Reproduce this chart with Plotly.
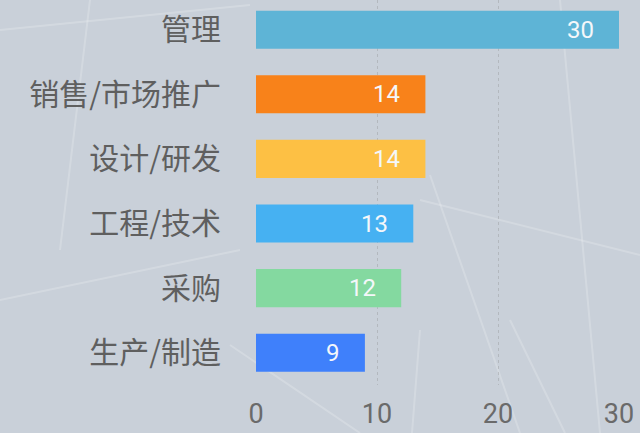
import plotly.graph_objects as go

categories = ["管理", "销售/市场推广", "设计/研发", "工程/技术", "采购", "生产/制造"]
values = [30, 14, 14, 13, 12, 9]
colors = ["#5eb4d6", "#f8821a", "#fdc044", "#46b1f2", "#84d9a0", "#3f80fb"]
x_ticks = [0, 10, 20, 30]

W, H = 640, 433
ML, MR, MT, MB = 256, 21, 0, 48
PW, PH = W - ML - MR, H - MT - MB
BG = "#c9d0d9"

fig = go.Figure()
fig.add_trace(go.Bar(
    y=categories, x=values, orientation="h",
    marker=dict(color=colors, line=dict(width=0)),
    hoverinfo="skip", showlegend=False,
))

for c, v in zip(categories, values):
    fig.add_annotation(x=v, y=c, text=str(v), showarrow=False,
                       xanchor="right", xshift=-23,
                       font=dict(family="Roboto, Arial, sans-serif", size=24, color="#f4f7fa"))

# faint decorative background lines, given in screen pixels
def px2paper(x, y):
    return (x - ML) / PW, 1 - (y - MT) / PH

bg_lines = [
    (420, 200, 640, 255), (430, 175, 520, 433), (230, 345, 360, 433),
    (420, 330, 412, 433), (510, 320, 565, 433), (0, 30, 250, 5),
    (90, 0, 60, 250), (0, 300, 240, 250), (560, 0, 600, 433),
]
for x0, y0, x1, y1 in bg_lines:
    a0, b0 = px2paper(x0, y0)
    a1, b1 = px2paper(x1, y1)
    fig.add_shape(type="line", xref="paper", yref="paper", x0=a0, y0=b0, x1=a1, y1=b1,
                  line=dict(color="rgba(255,255,255,0.2)", width=2), layer="below")

fig.update_layout(
    width=W, height=H,
    margin=dict(l=ML, r=MR, t=MT, b=MB, pad=0),
    paper_bgcolor=BG, plot_bgcolor="rgba(0,0,0,0)",
    bargap=0.41,
    font=dict(family="Noto Sans CJK SC, Roboto, sans-serif", color="#5f5f5f"),
)
fig.update_xaxes(
    range=[0, 30], tickvals=x_ticks, ticktext=[str(t) for t in x_ticks],
    showgrid=True, gridcolor="rgba(130,130,130,0.3)", griddash="dot", gridwidth=1,
    zeroline=False, showline=False,
    tickfont=dict(family="Roboto, Arial, sans-serif", size=27, color="#6a6a6a"),
    ticklabelstandoff=10, fixedrange=True,
)
fig.update_yaxes(
    categoryorder="array", categoryarray=categories[::-1],
    range=[-0.5, 5.46],
    showgrid=False, zeroline=False, showline=False,
    tickfont=dict(family="Noto Sans CJK SC, sans-serif", size=30, color="#5f5f5f"),
    ticklabelstandoff=34, fixedrange=True,
)

fig.write_html(
    "out.html",
    config={"displayModeBar": False},
    post_script="document.body.style.margin='0';document.body.style.background='" + BG + "';",
)
